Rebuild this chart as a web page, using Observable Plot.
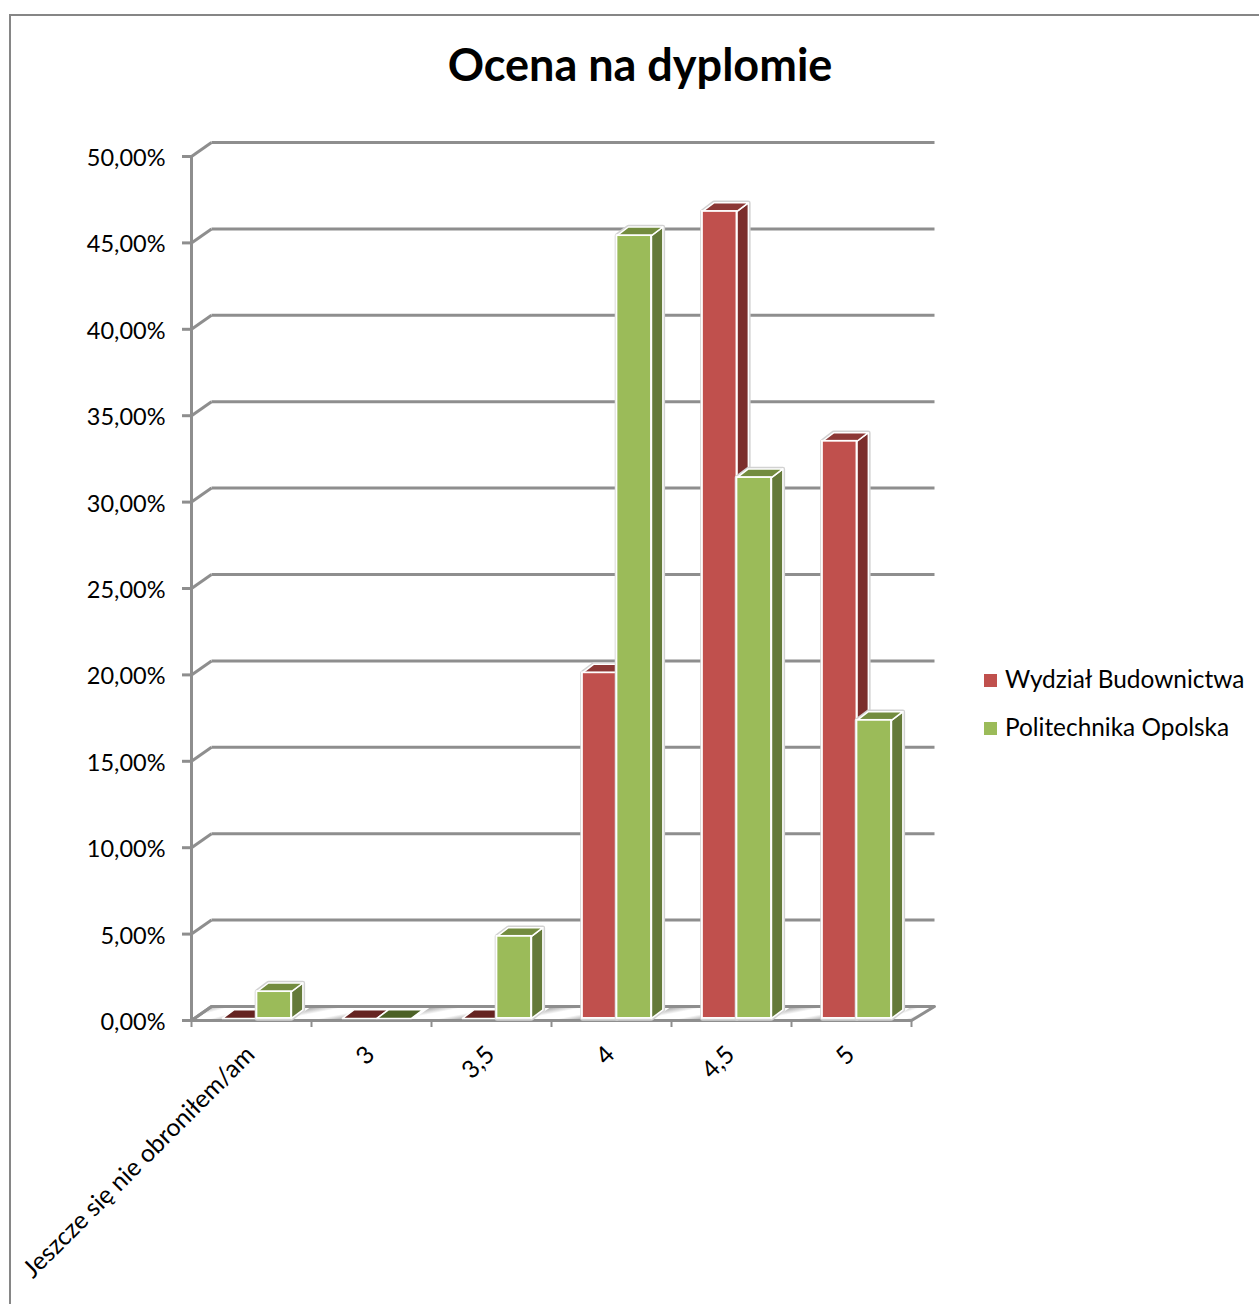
<!DOCTYPE html>
<html lang="pl"><head><meta charset="utf-8">
<script src="https://cdn.jsdelivr.net/npm/d3@7"></script>
<script src="https://cdn.jsdelivr.net/npm/@observablehq/plot@0.6"></script>
<style>
html,body{margin:0;padding:0;background:#fff;width:1259px;height:1304px;overflow:hidden;position:relative;font-family:Lato,sans-serif;color:#000}
#frame{position:absolute;left:9px;top:14px;width:1300px;height:1340px;border:2px solid #868686;box-sizing:border-box}
#title{position:relative;height:100px;box-sizing:border-box;padding-top:35px;width:1280px;text-align:center;font-size:45px;line-height:58px;font-weight:700}
#chart svg{display:block;overflow:visible}
.lg{position:absolute;left:984px;font-size:24.4px;line-height:30px;white-space:nowrap}
.lg i{position:absolute;left:0;top:10px;width:13px;height:13px}
.lg span{margin-left:21px}
</style></head><body>
<div id="frame"></div>
<div id="title">Ocena na dyplomie</div>
<div id="chart"></div>
<div class="lg" style="top:664px"><i style="background:#C0504D"></i><span>Wydział Budownictwa</span></div>
<div class="lg" style="top:712px"><i style="background:#9BBB59"></i><span>Politechnika Opolska</span></div>
<script>
const categories = ["Jeszcze się nie obroniłem/am","3","3,5","4","4,5","5"];
const wydzial = [0,0,0,20.0,46.7,33.4];
const politechnika = [1.55,0,4.75,45.3,31.3,17.25];
const yTicks = [0,5,10,15,20,25,30,35,40,45,50];

// depth of the 3D box, in scale units
const wallX = 20/120, wallY = 14/17.28, wallRight = 23/120;
const boxX = 0.095, boxY = 0.5, lift = 0.12;
const barW = 0.2875, barStart = 0.258;
const GRID = "#8e8e8e";

function bars(values, offset){
  return values.map((v,i)=>({i, v, x1:i+barStart+offset*barW, x2:i+barStart+(offset+1)*barW}));
}
const red = bars(wydzial,0), green = bars(politechnika,1);

const sidePoly = b => [[b.x2,lift],[b.x2+boxX,lift+boxY],[b.x2+boxX,b.v+lift+boxY],[b.x2,b.v+lift]];
const topPoly  = b => [[b.x1,b.v+lift],[b.x1+boxX,b.v+lift+boxY],[b.x2+boxX,b.v+lift+boxY],[b.x2,b.v+lift]];
const hullPoly = b => [[b.x1,lift],[b.x1,b.v+lift],[b.x1+boxX,b.v+lift+boxY],[b.x2+boxX,b.v+lift+boxY],[b.x2+boxX,lift+boxY],[b.x2,lift]];
function poly(rows, f){
  return rows.flatMap(b=>{const p=f(b); return [...p,p[0]].map(([x,y])=>({x,y,z:b.i}));});
}
const faces = {x:"x",y:"y",z:"z",curve:"linear"};
function series(rows, c){
  const up = rows.filter(b=>b.v>0), flat = rows.filter(b=>b.v===0);
  return [
    Plot.line(poly(up,hullPoly),{...faces,fill:"#dcdcdc",stroke:"#d2d2d2",strokeWidth:4.5,strokeLinejoin:"round"}),
    Plot.line(poly(up,sidePoly),{...faces,fill:c.side,stroke:"#fff",strokeWidth:1.5}),
    Plot.line(poly(up,topPoly),{...faces,fill:c.top,stroke:"#fff",strokeWidth:1.5}),
    Plot.line(poly(flat,topPoly),{...faces,fill:c.flat,stroke:"#fff",strokeWidth:1.5}),
    Plot.rect(up,{x1:"x1",x2:"x2",y1:lift,y2:d=>d.v+lift,fill:c.front,stroke:"#fff",strokeWidth:1.8})
  ];
}
const floor = [[0,0],[wallX,wallY],[6+wallRight,wallY],[6,0],[0,0]].map(([x,y])=>({x,y,z:0}));
const barEnd = barStart + 2*barW;
const gaps = [[0,barStart],...d3.range(5).map(i=>[i+barEnd,i+1+barStart]),[5+barEnd,6]];
const floorCells = gaps.flatMap(([a,b],i)=>[[a,0],[a+wallX,wallY],[b+wallX,wallY],[b,0],[a,0]].map(([x,y])=>({x,y,z:i})));

const defs = () => {
  const g = document.createElementNS("http://www.w3.org/2000/svg","g");
  g.innerHTML = `<defs><linearGradient id="floorShade" x1="0" x2="1" y1="0" y2="1">
    <stop offset="0.15" stop-color="#a0a0a0"/><stop offset="0.4" stop-color="#fff"/>
    <stop offset="0.62" stop-color="#fff"/><stop offset="0.85" stop-color="#a0a0a0"/></linearGradient></defs>`;
  return g;
};

const plot = Plot.plot({
  width:1259, height:1204,
  marginLeft:191, marginRight:348, marginTop:56, marginBottom:284,
  style:{fontFamily:"Lato, sans-serif", fontSize:"24px", color:"#000", background:"transparent", overflow:"visible"},
  x:{domain:[0,6], range:[191,911], axis:null},
  y:{domain:[0,50], axis:null},
  marks:[
    defs,
    Plot.line(floorCells,{x:"x",y:"y",z:"z",fill:"url(#floorShade)",stroke:"none"}),
    Plot.link(yTicks,{x1:wallX,x2:6+wallRight,y1:d=>d+wallY,y2:d=>d+wallY,stroke:GRID,strokeWidth:3}),
    Plot.link(yTicks,{x1:0,x2:wallX,y1:d=>d,y2:d=>d+wallY,stroke:GRID,strokeWidth:3}),
    Plot.line(floor,{x:"x",y:"y",stroke:GRID,strokeWidth:3}),
    Plot.ruleX([0],{y1:0,y2:50,stroke:GRID,strokeWidth:3}),
    ...series(red,{front:"#C0504D",side:"#7b2e2c",top:"#8c3836",flat:"#662321"}),
    ...series(green,{front:"#9BBB59",side:"#647a39",top:"#738c3f",flat:"#4c6126"}),
    Plot.axisY({ticks:yTicks,tickSize:9,tickPadding:17,stroke:GRID,strokeWidth:3,fontSize:23.5,
      tickFormat:d=>d.toFixed(2).replace(".",",")+"%",label:null,textStroke:"none"}),
    Plot.axisX({ticks:d3.range(7),tickSize:7,stroke:GRID,strokeWidth:2,tickFormat:()=>"",label:null}),
    Plot.axisX(d3.range(6).map(i=>i+0.5),{tickSize:0,tickPadding:28,tickRotate:-45,textAnchor:"end",dx:-1,dy:2,fontSize:24.7,
      tickFormat:d=>categories[Math.floor(d)],label:null})
  ]
});
// the y tick labels sit 2px lower than the tick marks
plot.querySelectorAll('[aria-label="y-axis tick label"] text').forEach(t=>t.setAttribute("dy","2px"));
document.getElementById("chart").appendChild(plot);
</script></body></html>
